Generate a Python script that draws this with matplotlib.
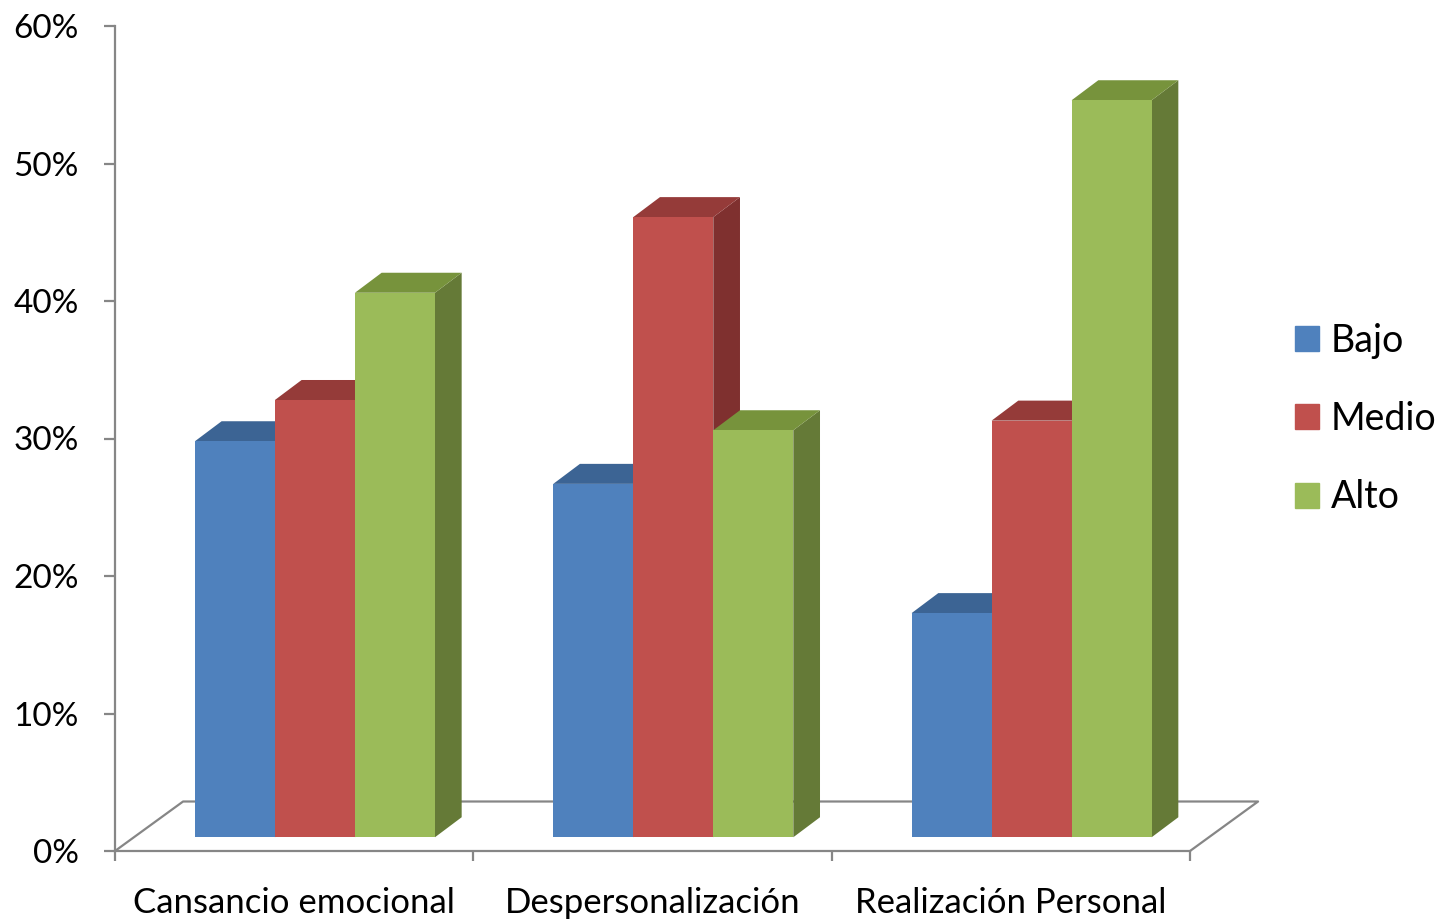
import matplotlib.pyplot as plt
from matplotlib.patches import Polygon, Patch

plt.rcParams['font.family'] = ['Lato', 'DejaVu Sans']

# Datos
categorias = ["Cansancio emocional", "Despersonalización", "Realización Personal"]
niveles = ["Bajo", "Medio", "Alto"]
bajo = [28.8, 25.7, 16.3]
medio = [31.8, 45.1, 30.3]
alto = [39.6, 29.6, 53.6]
valores = [bajo, medio, alto]

# colores: frente, tapa, lateral
frente = ["#4F81BD", "#C0504D", "#9BBB59"]
tapa = ["#3C6494", "#953B39", "#77933C"]
lateral = ["#385D8A", "#7F302F", "#657A37"]
gris = "#868686"

# geometria del efecto 3D (unidades de datos)
piso_dx, piso_dy = 0.19, 3.6      # profundidad del piso
frente_dx, frente_dy = 0.058, 1.0  # desplazamiento de la cara frontal
prof_dx, prof_dy = 0.0745, 1.455   # profundidad de cada barra
ancho = 0.2233

fig = plt.figure(figsize=(14.43, 9.19), dpi=100)
ax = fig.add_axes([115 / 1443, 68 / 919, 1075 / 1443, 825 / 919])
ax.set_xlim(0, 3)
ax.set_ylim(0, 60)
ax.patch.set_alpha(0)

# piso
ax.plot([0, piso_dx, 3 + piso_dx, 3], [0, piso_dy, piso_dy, 0],
        color=gris, lw=1.6, clip_on=False, zorder=1)

for j, serie in enumerate(valores):
    xs = [i + 0.5 - 1.5 * ancho + j * ancho + frente_dx for i in range(3)]
    for x0, v in zip(xs, serie):
        y0 = frente_dy
        y1 = frente_dy + v
        x1 = x0 + ancho
        lado = Polygon([(x1, y0), (x1 + prof_dx, y0 + prof_dy),
                        (x1 + prof_dx, y1 + prof_dy), (x1, y1)],
                       closed=True, fc=lateral[j], ec="none", zorder=2 + 2 * j)
        arriba = Polygon([(x0, y1), (x0 + prof_dx, y1 + prof_dy),
                          (x1 + prof_dx, y1 + prof_dy), (x1, y1)],
                         closed=True, fc=tapa[j], ec="none", zorder=2 + 2 * j)
        ax.add_patch(lado)
        ax.add_patch(arriba)
    ax.bar(xs, serie, width=ancho, bottom=frente_dy, align='edge',
           color=frente[j], linewidth=0, zorder=3 + 2 * j)

# ejes
for s in ["top", "right"]:
    ax.spines[s].set_visible(False)
ax.spines["left"].set_color(gris)
ax.spines["bottom"].set_color(gris)
ax.spines["left"].set_linewidth(1.6)
ax.spines["bottom"].set_linewidth(1.6)

ax.set_yticks(range(0, 61, 10))
ax.set_yticklabels([f"{t}%" for t in range(0, 61, 10)])
ax.tick_params(axis="y", length=8, width=1.6, color=gris, pad=18, labelsize=24)

ax.set_xticks([0, 1, 2, 3])
ax.set_xticklabels([])
ax.set_xticks([0.5, 1.5, 2.5], minor=True)
ax.set_xticklabels(categorias, minor=True)
ax.tick_params(axis="x", which="major", length=7, width=1.6, color=gris)
ax.tick_params(axis="x", which="minor", length=0, pad=26, labelsize=25)

# leyenda
handles = [Patch(color=c, label=n) for c, n in zip(frente, niveles)]
fig.legend(handles=handles, loc="center left", bbox_to_anchor=(1295 / 1443, 1 - 419 / 919),
           frameon=False, fontsize=27, handlelength=0.64, handleheight=0.64,
           handletextpad=0.32, labelspacing=1.13, borderpad=0, borderaxespad=0)

fig.savefig("out.png", dpi=100)
